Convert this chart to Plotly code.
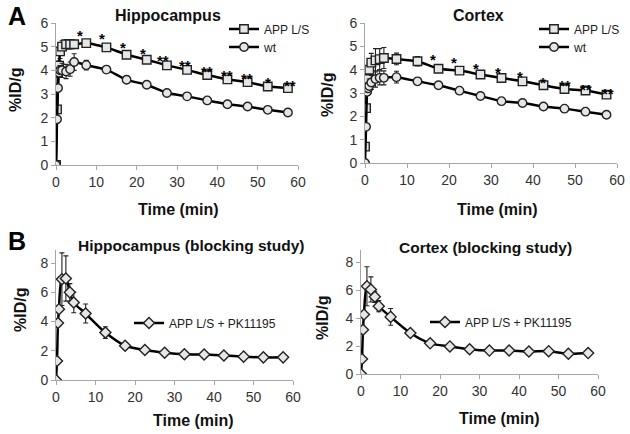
import plotly.graph_objects as go

# ---------------- data ----------------
t_top = [0, 0.25, 0.5, 0.75, 1, 1.5, 2.5, 3.5, 4.5, 7.5, 12.5, 17.5, 22.5, 27.5,
         32.5, 37.5, 42.5, 47.5, 52.5, 57.5]

hip_app = [0, 2.35, 3.9, 4.2, 4.8, 5.0, 5.1, 5.1, 5.1, 5.15, 4.97, 4.66, 4.45, 4.21,
           4.02, 3.8, 3.62, 3.5, 3.32, 3.25]
hip_app_err = [0, 0.1, 0.15, 0.2, 0.3, 0.25, 0.2, 0.2, 0.15, 0.1, 0.1, 0.1, 0.1, 0.1,
               0.1, 0.1, 0.1, 0.1, 0.1, 0.1]
hip_wt = [0, 1.93, 3.25, 3.9, 4.0, 4.0, 3.95, 4.05, 4.35, 4.22, 4.03, 3.6, 3.39, 3.04,
          2.9, 2.73, 2.57, 2.47, 2.33, 2.22]
hip_wt_err = [0, 0.15, 0.15, 0.2, 0.2, 0.3, 0.3, 0.3, 0.35, 0.2, 0.15, 0.15, 0.12, 0.1,
              0.08, 0.08, 0.08, 0.08, 0.08, 0.08]

ctx_app = [0.7, 2.35, 3.25, 3.6, 4.0, 4.3, 4.4, 4.45, 4.5, 4.46, 4.36, 4.04, 3.96, 3.79,
           3.64, 3.5, 3.33, 3.17, 3.11, 2.93]
ctx_app_err = [0, 0.15, 0.2, 0.25, 0.3, 0.4, 0.5, 0.45, 0.45, 0.25, 0.2, 0.15, 0.12, 0.12,
               0.12, 0.12, 0.12, 0.12, 0.12, 0.12]
ctx_wt = [0, 1.55, 3.05, 3.2, 3.3, 3.45, 3.6, 3.65, 3.65, 3.68, 3.5, 3.33, 3.1, 2.87,
          2.65, 2.57, 2.42, 2.33, 2.2, 2.07]
ctx_wt_err = [0, 0.1, 0.15, 0.25, 0.3, 0.3, 0.35, 0.3, 0.3, 0.25, 0.08, 0.08, 0.08, 0.08,
              0.08, 0.08, 0.08, 0.08, 0.08, 0.08]

hip_star_x = [6, 11.5, 16.7, 21.6, 26.6, 32, 37.4, 42.3, 47.3, 52.6, 57.9]
hip_star_y = [5.62, 5.5, 5.15, 4.87, 4.59, 4.38, 4.12, 3.95, 3.81, 3.64, 3.53]
hip_star_lab = ["*", "*", "*", "*", "**", "**", "**", "**", "**", "*", "**"]

ctx_star_x = [16.3, 21.3, 26.4, 31.6, 37, 42.3, 47.5, 52.7, 57.9]
ctx_star_y = [4.6, 4.46, 4.24, 4.04, 3.86, 3.64, 3.5, 3.31, 3.17]
ctx_star_lab = ["*", "*", "*", "*", "*", "*", "**", "**", "**"]

t_bot = [0, 0.25, 0.5, 0.75, 1.5, 2.5, 3.5, 4.5, 7.5, 12.5, 17.5, 22.5, 27.5, 32.5,
         37.5, 42.5, 47.5, 52.5, 57.5]
hip_blk = [0, 1.3, 3.9, 4.85, 6.9, 6.95, 6.0, 5.3, 4.55, 3.25, 2.35, 2.05, 1.87, 1.76,
           1.75, 1.68, 1.6, 1.55, 1.55]
hip_blk_err = [0, 0.15, 0.2, 0.2, 1.8, 1.55, 0.6, 0.7, 0.65, 0.4, 0.2, 0.12, 0.1, 0.1,
               0.1, 0.1, 0.1, 0.1, 0.1]
ctx_blk = [0, 1.08, 3.18, 4.27, 6.3, 6.07, 5.54, 4.87, 4.1, 2.94, 2.2, 1.98, 1.78, 1.68,
           1.69, 1.61, 1.64, 1.45, 1.5]
ctx_blk_err = [0, 0.15, 0.2, 0.2, 1.4, 0.9, 0.4, 0.4, 0.6, 0.25, 0.2, 0.15, 0.12, 0.12,
               0.1, 0.1, 0.1, 0.1, 0.1]

titles = ["Hippocampus", "Cortex", "Hippocampus (blocking study)", "Cortex (blocking study)"]
x_ticks = [0, 10, 20, 30, 40, 50, 60]

# ---------------- figure ----------------
FONT = "Liberation Sans, Arial, sans-serif"
W, H = 630, 434

def px(x):
    return x / W

def py(y):
    return 1 - y / H

fig = go.Figure()

def add_series(t, y, err, name, symbol, xa, ya, legend, smoothing=0.6):
    fig.add_trace(go.Scatter(
        x=t, y=y, name=name, mode="lines+markers", showlegend=True,
        xaxis=xa, yaxis=ya, legend=legend,
        line=dict(color="black", width=2.5, shape="spline", smoothing=smoothing),
        marker=dict(symbol=symbol, size=8.5, color="#e6e6e6",
                    line=dict(color="#222", width=1.4)),
        error_y=dict(type="data", array=err, visible=True, color="#222",
                     thickness=1.1, width=2.5),
    ))

add_series(t_top, hip_app, hip_app_err, "APP L/S", "square", "x", "y", "legend", smoothing=0.4)
add_series(t_top, hip_wt, hip_wt_err, "wt", "circle", "x", "y", "legend2", smoothing=0.4)
add_series(t_top, ctx_app, ctx_app_err, "APP L/S", "square", "x2", "y2", "legend3")
add_series(t_top, ctx_wt, ctx_wt_err, "wt", "circle", "x2", "y2", "legend4")
add_series(t_bot, hip_blk, hip_blk_err, "APP L/S + PK11195", "diamond", "x3", "y3", "legend5", smoothing=0.8)
add_series(t_bot, ctx_blk, ctx_blk_err, "APP L/S + PK11195", "diamond", "x4", "y4", "legend6", smoothing=0.8)

axis_common = dict(
    showline=True, linecolor="#a6a6a6", linewidth=1,
    ticks="outside", ticklen=4, tickcolor="#a6a6a6",
    showgrid=False, zeroline=False, automargin=False,
    tickfont=dict(family=FONT, size=14, color="#333"),
)

dom = {
    "1": dict(x=[56, 298], y=[165, 23], yr=[0, 6], dt=1),
    "2": dict(x=[365, 617], y=[163, 23], yr=[0, 6], dt=1),
    "3": dict(x=[56, 293], y=[380, 250], yr=[0, 8.9], dt=2),
    "4": dict(x=[361, 598], y=[374, 250], yr=[0, 8.9], dt=2),
}
lay = {}
for k, d in dom.items():
    sx = "" if k == "1" else k
    lay["xaxis" + sx] = dict(axis_common, domain=[px(d["x"][0]), px(d["x"][1])],
                             range=[0, 60], tickvals=x_ticks,
                             anchor="y" + sx)
    lay["yaxis" + sx] = dict(axis_common, domain=[py(d["y"][0]), py(d["y"][1])],
                             range=d["yr"], dtick=d["dt"], tick0=0,
                             anchor="x" + sx)

leg_common = dict(font=dict(family=FONT, size=12, color="#222"),
                  bgcolor="rgba(0,0,0,0)", borderwidth=0,
                  xanchor="left", yanchor="middle", itemwidth=30,
                  tracegroupgap=0, visible=True)

# legend rows: (text-start x, row-centre y) in pixels
legend_pos = {"legend": (267, 29), "legend2": (267, 47),
              "legend3": (577, 29), "legend4": (577, 47),
              "legend5": (172, 323), "legend6": (468, 322)}
for name, (lx, ly) in legend_pos.items():
    lay[name] = dict(leg_common, x=px(lx - 43), y=py(ly))

fig.update_layout(
    width=W, height=H, margin=dict(l=0, r=0, t=0, b=0, autoexpand=False),
    paper_bgcolor="white", plot_bgcolor="rgba(0,0,0,0)",
    font=dict(family=FONT), showlegend=True,
    **lay,
)

ann = []
bold = dict(family=FONT, size=16, color="#111")
# panel letters
ann.append(dict(text="<b>A</b>", x=px(17), y=py(16), font=dict(family=FONT, size=25, color="black")))
ann.append(dict(text="<b>B</b>", x=px(17), y=py(241), font=dict(family=FONT, size=25, color="black")))
# titles
for txt, (cx, cy, fs) in zip(titles, [(168, 15, 16), (478, 15, 16), (191, 245, 15.5), (485, 247, 15.5)]):
    ann.append(dict(text="<b>%s</b>" % txt, x=px(cx), y=py(cy),
                    font=dict(family=FONT, size=fs, color="#111")))
# axis titles
for cx, cy in [(178, 209), (497, 209), (193, 420), (499, 418)]:
    ann.append(dict(text="<b>Time (min)</b>", x=px(cx), y=py(cy), font=bold))
for cx, cy in [(15, 90), (327, 95), (20, 310), (322, 318)]:
    ann.append(dict(text="<b>%ID/g</b>", x=px(cx), y=py(cy), font=bold, textangle=-90))
for a in ann:
    a.update(xref="paper", yref="paper", showarrow=False, xanchor="center", yanchor="middle")

# significance stars
for xs, ys, labs, xr, yr in [(hip_star_x, hip_star_y, hip_star_lab, "x", "y"),
                             (ctx_star_x, ctx_star_y, ctx_star_lab, "x2", "y2")]:
    for sx_, sy_, lab in zip(xs, ys, labs):
        ann.append(dict(text="<b>%s</b>" % lab, x=sx_, y=sy_, xref=xr, yref=yr, showarrow=False,
                        xanchor="center", yanchor="middle", yshift=-4,
                        font=dict(family=FONT, size=15, color="black")))

fig.update_layout(annotations=ann)
fig.write_html("out.html", config={"displayModeBar": False},
               post_script="document.body.style.margin='0';")
